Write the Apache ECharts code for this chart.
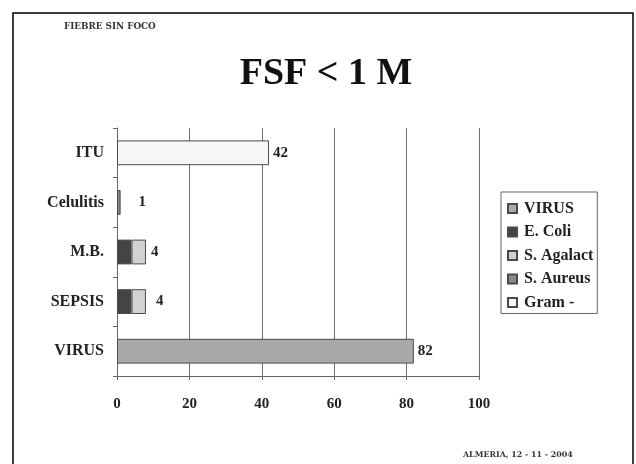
<!DOCTYPE html>
<html>
<head>
<meta charset="utf-8">
<script src="https://cdn.jsdelivr.net/npm/echarts@6/dist/echarts.min.js"></script>
<style>
html,body{margin:0;padding:0;background:#fff;}
#chart{width:636px;height:464px;}
</style>
</head>
<body>
<div id="chart"></div>
<script>
var categories = ['ITU', 'Celulitis', 'M.B.', 'SEPSIS', 'VIRUS'];
var seriesNames = ['VIRUS', 'E. Coli', 'S. Agalact', 'S. Aureus', 'Gram -'];
var virus     = [0, 0, 0, 0, 82];
var eColi     = [0, 0, 4, 4, 0];
var sAgalact  = [0, 0, 4, 4, 0];
var sAureus   = [0, 1, 0, 0, 0];
var gramNeg   = [42, 0, 0, 0, 0];
var xTicks = [0, 20, 40, 60, 80, 100];

var colors = ['#a9a9a9', '#444444', '#d2d2d2', '#8a8a8a', '#f6f6f6'];
var SERIF = '"Liberation Serif", "Times New Roman", serif';

function mkSeries(name, data, color, labelDist, extraDist) {
  return {
    name: name,
    type: 'bar',
    stack: 'total',
    barWidth: '50%',
    data: data.map(function (v, i) {
      if (v === 0) return '-';
      if (extraDist && extraDist[i] != null) {
        return { value: v, label: { distance: extraDist[i] } };
      }
      return v;
    }),
    itemStyle: { color: color, borderColor: '#4a4a4a', borderWidth: 1 },
    label: {
      show: true,
      position: 'right',
      distance: labelDist,
      fontFamily: SERIF,
      fontWeight: 'bold',
      fontSize: 15,
      color: '#222',
      formatter: function (p) { return p.value === '-' ? '' : String(p.value); }
    },
    emphasis: { disabled: true }
  };
}

var chart = echarts.init(document.getElementById('chart'));
var eColiSeries = mkSeries(seriesNames[1], eColi, colors[1], 5);
eColiSeries.label.show = false;

chart.setOption({
  animation: false,
  backgroundColor: '#fff',
  grid: { left: 117, right: 157, top: 128, bottom: 88, containLabel: false },
  xAxis: {
    type: 'value',
    min: 0, max: 100, interval: 20,
    axisLine: { show: true, lineStyle: { color: '#666', width: 1 } },
    axisTick: { show: true, length: 4, lineStyle: { color: '#666' } },
    splitLine: { show: true, lineStyle: { color: '#707070', width: 1 } },
    axisLabel: {
      margin: 21, fontFamily: SERIF, fontWeight: 'bold', fontSize: 15, color: '#222',
      formatter: function (v) { return xTicks.indexOf(v) >= 0 ? String(v) : ''; }
    }
  },
  yAxis: {
    type: 'category',
    data: categories,
    inverse: true,
    axisLine: { show: true, lineStyle: { color: '#666', width: 1 } },
    axisTick: { show: true, length: 4, lineStyle: { color: '#666' } },
    axisLabel: { margin: 13, fontFamily: SERIF, fontWeight: 'bold', fontSize: 16, color: '#222' }
  },
  legend: {
    orient: 'vertical',
    left: 501, top: 192,
    data: seriesNames,
    itemWidth: 9, itemHeight: 9, itemGap: 7.5,
    padding: [8.5, 4, 3, 6],
    borderColor: '#666', borderWidth: 1,
    icon: 'rect',
    selectedMode: false,
    textStyle: { fontFamily: SERIF, fontWeight: 'bold', fontSize: 16, color: '#222', padding: [0, 0, 0, 2] }
  },
  series: [
    mkSeries(seriesNames[0], virus, colors[0], 4),
    eColiSeries,
    mkSeries(seriesNames[2], sAgalact, colors[2], 5, { 3: 10 }),
    mkSeries(seriesNames[3], sAureus, colors[3], 18),
    mkSeries(seriesNames[4], gramNeg, colors[4], 4)
  ],
  graphic: [
    { type: 'rect', shape: { x: 13, y: 13, width: 620, height: 470 },
      style: { fill: 'none', stroke: '#000', lineWidth: 1.5 }, silent: true },
    { type: 'text', x: 326, y: 74,
      style: { text: 'FSF < 1 M', font: 'bold 38px ' + SERIF, fill: '#111', textAlign: 'center', textVerticalAlign: 'middle' } },
    { type: 'text', x: 64, y: 27,
      style: { text: 'FIEBRE SIN FOCO', font: 'bold 8.8px "DejaVu Serif", serif', fill: '#333', textVerticalAlign: 'middle' } },
    { type: 'text', x: 463, y: 455,
      style: { text: 'ALMERIA, 12 - 11 - 2004', font: 'bold 7.9px "DejaVu Serif", serif', fill: '#333', textVerticalAlign: 'middle' } }
  ]
});
</script>
</body>
</html>
